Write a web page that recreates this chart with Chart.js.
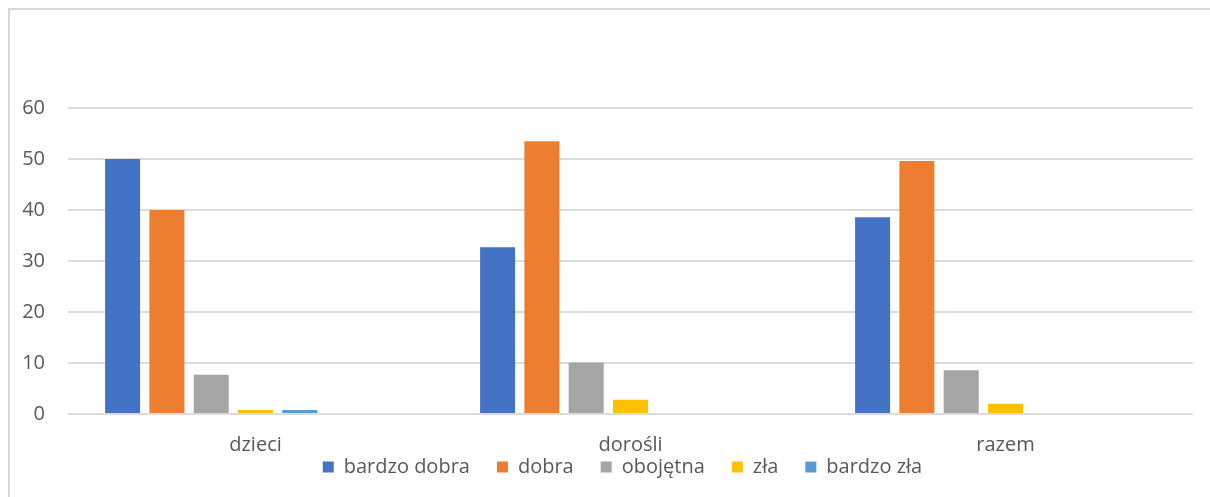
<!DOCTYPE html>
<html>
<head>
<meta charset="utf-8">
<script src="https://cdn.jsdelivr.net/npm/chart.js@4.4.0/dist/chart.umd.min.js"></script>
<style>
  html, body { margin: 0; padding: 0; background: #fff; overflow: hidden; }
  #frame {
    position: absolute; left: 8px; top: 8px; width: 1300px; height: 600px;
    border: 2px solid #d9d9d9; box-sizing: border-box;
  }
  #wrap { position: absolute; left: 0; top: 0; width: 1210px; height: 497px; }
</style>
</head>
<body>
<div id="frame"></div>
<div id="wrap"><canvas id="chart"></canvas></div>
<script>
// categories and series
const categories = ['dzieci', 'dorośli', 'razem'];
const bardzoDobra = [50, 32.7, 38.6];
const dobra = [40, 53.5, 49.6];
const obojetna = [7.7, 10.1, 8.6];
const zla = [0.8, 2.8, 2.0];
const bardzoZla = [0.8, 0, 0];
// two empty series in the source sheet: they keep their slots but have no legend entry
const emptySeries1 = [null, null, null];
const emptySeries2 = [null, null, null];

const textColor = '#595959';
const gridColor = '#dcdcdc';
Chart.defaults.font.family = '"Open Sans", sans-serif';
Chart.defaults.font.size = 20;
Chart.defaults.color = textColor;

function series(label, data, color, inLegend) {
  return {
    label: label,
    data: data,
    backgroundColor: color,
    borderWidth: 0,
    inLegend: inLegend,
    categoryPercentage: 0.827,
    barPercentage: 0.79
  };
}

// pull the legend up under the category labels (Excel keeps them close together)
const legendNudge = {
  id: 'legendNudge',
  afterLayout(chart) {
    const lg = chart.legend;
    if (!lg) return;
    lg.top -= 46;
    lg.bottom -= 46;
    lg.left += 26;
    lg.right += 26;
  }
};

const ctx = document.getElementById('chart').getContext('2d');
new Chart(ctx, {
  type: 'bar',
  data: {
    labels: categories,
    datasets: [
      series('bardzo dobra', bardzoDobra, '#4472C4', true),
      series('dobra', dobra, '#ED7D31', true),
      series('obojętna', obojetna, '#A5A5A5', true),
      series('zła', zla, '#FFC000', true),
      series('bardzo zła', bardzoZla, '#5B9BD5', true),
      series('', emptySeries1, '#70AD47', false),
      series('', emptySeries2, '#264478', false)
    ]
  },
  plugins: [legendNudge],
  options: {
    responsive: true,
    maintainAspectRatio: false,
    animation: false,
    layout: { padding: { top: 108, right: 17, bottom: -36, left: 0 } },
    scales: {
      x: {
        grid: { display: false, drawTicks: false },
        border: { display: false },
        ticks: { padding: 19, color: textColor }
      },
      y: {
        min: 0,
        max: 60,
        ticks: { stepSize: 10, padding: 23, color: textColor },
        grid: { color: gridColor, lineWidth: 2, drawTicks: false },
        border: { display: false },
        afterFit: (scale) => { scale.width = 68; }
      }
    },
    plugins: {
      legend: {
        position: 'bottom',
        labels: {
          boxWidth: 11,
          boxHeight: 11,
          padding: 27,
          color: textColor,
          filter: (item, data) => data.datasets[item.datasetIndex].inLegend
        }
      },
      tooltip: { enabled: false }
    }
  }
});
</script>
</body>
</html>
